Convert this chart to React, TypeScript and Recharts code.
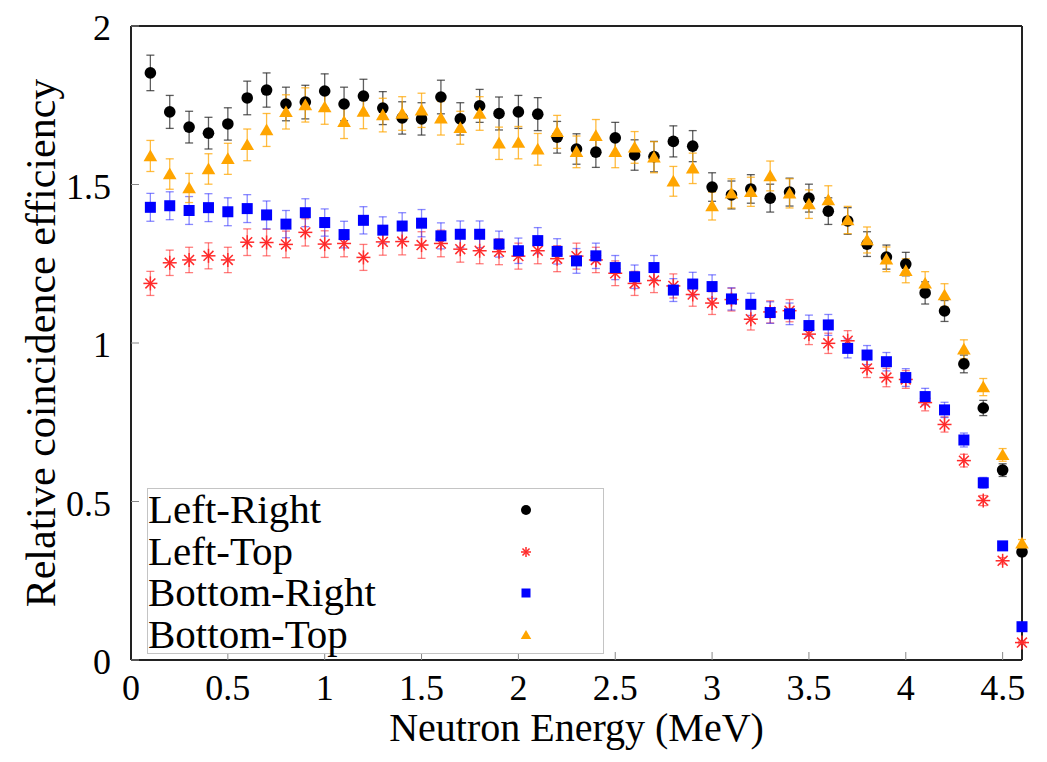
import React from "react";
import { ScatterChart, Scatter, XAxis, YAxis, ErrorBar } from "recharts";

// neutron energy bins (MeV)
const energies = [
    0.1, 0.2, 0.3, 0.4, 0.5, 0.6, 0.7, 0.8, 0.9, 1.0,
    1.1, 1.2, 1.3, 1.4, 1.5, 1.6, 1.7, 1.8, 1.9, 2.0,
    2.1, 2.2, 2.3, 2.4, 2.5, 2.6, 2.7, 2.8, 2.9, 3.0,
    3.1, 3.2, 3.3, 3.4, 3.5, 3.6, 3.7, 3.8, 3.9, 4.0,
    4.1, 4.2, 4.3, 4.4, 4.5, 4.6,
];

const leftRight = [
    1.852, 1.729, 1.681, 1.662, 1.691, 1.773, 1.798, 1.754, 1.760, 1.795,
    1.754, 1.779, 1.741, 1.710, 1.707, 1.776, 1.707, 1.748, 1.724, 1.729,
    1.722, 1.649, 1.612, 1.602, 1.647, 1.593, 1.588, 1.636, 1.621, 1.492,
    1.467, 1.486, 1.457, 1.476, 1.457, 1.416, 1.385, 1.312, 1.271, 1.249,
    1.158, 1.101, 0.934, 0.795, 0.599, 0.341,
];
const leftRightErr = [
    0.056, 0.052, 0.050, 0.050, 0.051, 0.053, 0.054, 0.053, 0.053, 0.054,
    0.053, 0.053, 0.052, 0.051, 0.051, 0.053, 0.051, 0.052, 0.052, 0.052,
    0.052, 0.050, 0.048, 0.048, 0.049, 0.048, 0.048, 0.049, 0.049, 0.045,
    0.044, 0.045, 0.044, 0.044, 0.044, 0.042, 0.042, 0.039, 0.038, 0.037,
    0.035, 0.033, 0.028, 0.024, 0.020, 0.012,
];

const leftTop = [
    1.188, 1.253, 1.262, 1.275, 1.262, 1.318, 1.317, 1.311, 1.349, 1.312,
    1.314, 1.270, 1.319, 1.320, 1.309, 1.314, 1.296, 1.291, 1.288, 1.274,
    1.291, 1.266, 1.274, 1.262, 1.220, 1.188, 1.197, 1.180, 1.153, 1.126,
    1.137, 1.075, 1.098, 1.102, 1.028, 0.999, 1.007, 0.920, 0.891, 0.885,
    0.812, 0.743, 0.629, 0.503, 0.313, 0.055,
];
const leftTopErr = [
    0.038, 0.040, 0.040, 0.041, 0.040, 0.042, 0.042, 0.042, 0.043, 0.042,
    0.042, 0.041, 0.042, 0.042, 0.042, 0.042, 0.041, 0.041, 0.041, 0.041,
    0.041, 0.041, 0.041, 0.040, 0.039, 0.038, 0.038, 0.038, 0.037, 0.036,
    0.036, 0.034, 0.035, 0.035, 0.033, 0.032, 0.032, 0.029, 0.029, 0.028,
    0.026, 0.024, 0.020, 0.016, 0.010, 0.004,
];

const bottomRight = [
    1.428, 1.433, 1.418, 1.427, 1.414, 1.424, 1.404, 1.375, 1.411, 1.380,
    1.342, 1.387, 1.356, 1.369, 1.378, 1.338, 1.343, 1.343, 1.312, 1.291,
    1.323, 1.289, 1.259, 1.275, 1.238, 1.209, 1.238, 1.167, 1.186, 1.178,
    1.139, 1.122, 1.096, 1.092, 1.055, 1.057, 0.983, 0.962, 0.941, 0.891,
    0.831, 0.789, 0.694, 0.559, 0.360, 0.105,
];
const bottomRightErr = [
    0.044, 0.044, 0.044, 0.044, 0.044, 0.044, 0.044, 0.043, 0.044, 0.043,
    0.042, 0.043, 0.042, 0.042, 0.043, 0.041, 0.042, 0.042, 0.041, 0.040,
    0.041, 0.040, 0.039, 0.040, 0.038, 0.037, 0.038, 0.036, 0.037, 0.037,
    0.035, 0.035, 0.034, 0.034, 0.033, 0.033, 0.030, 0.030, 0.029, 0.028,
    0.026, 0.024, 0.022, 0.017, 0.011, 0.004,
];

const bottomTop = [
    1.590, 1.533, 1.489, 1.549, 1.581, 1.625, 1.672, 1.729, 1.751, 1.744,
    1.698, 1.730, 1.719, 1.724, 1.734, 1.709, 1.679, 1.724, 1.630, 1.632,
    1.611, 1.666, 1.603, 1.654, 1.603, 1.617, 1.586, 1.510, 1.551, 1.432,
    1.472, 1.477, 1.527, 1.472, 1.438, 1.451, 1.388, 1.325, 1.264, 1.228,
    1.188, 1.151, 0.980, 0.861, 0.647, 0.368,
];
const bottomTopErr = [
    0.049, 0.048, 0.046, 0.048, 0.049, 0.050, 0.052, 0.054, 0.054, 0.054,
    0.053, 0.054, 0.053, 0.053, 0.054, 0.053, 0.052, 0.053, 0.051, 0.051,
    0.050, 0.052, 0.050, 0.051, 0.050, 0.050, 0.049, 0.047, 0.048, 0.044,
    0.046, 0.046, 0.047, 0.046, 0.045, 0.045, 0.043, 0.041, 0.039, 0.038,
    0.037, 0.036, 0.030, 0.027, 0.020, 0.012,
];

const xTicks = [0, 0.5, 1, 1.5, 2, 2.5, 3, 3.5, 4, 4.5];
const yTicks = [0, 0.5, 1, 1.5, 2];

const FONT = "'Liberation Serif', 'Times New Roman', serif";

const toPoints = (vals: number[], errs: number[]) =>
    energies.map((e, i) => ({ x: e, y: vals[i], err: errs[i] }));

// marker shapes, gnuplot style
const CircleMark = ({ cx, cy, r = 5.8 }: any) => (
    <circle cx={cx} cy={cy} r={r} fill="#000000" />
);
const StarMark = ({ cx, cy, s = 7 }: any) => {
    const d = s * 0.707;
    return (
        <g stroke="#ff2a2a" strokeWidth={1.5}>
            <line x1={cx - s} y1={cy} x2={cx + s} y2={cy} />
            <line x1={cx} y1={cy - s} x2={cx} y2={cy + s} />
            <line x1={cx - d} y1={cy - d} x2={cx + d} y2={cy + d} />
            <line x1={cx - d} y1={cy + d} x2={cx + d} y2={cy - d} />
        </g>
    );
};
const SquareMark = ({ cx, cy, s = 5.5 }: any) => (
    <rect x={cx - s} y={cy - s} width={s * 2} height={s * 2} fill="#0000ff" />
);
const TriangleMark = ({ cx, cy, s = 6.5 }: any) => (
    <polygon
        points={`${cx},${cy - s} ${cx - s * 1.05},${cy + s * 0.8} ${cx + s * 1.05},${cy + s * 0.8}`}
        fill="#ffa500"
    />
);

const series = [
    { name: "Left-Right", data: toPoints(leftRight, leftRightErr), shape: CircleMark, errColor: "rgba(40,40,40,0.75)", keySize: 5 },
    { name: "Left-Top", data: toPoints(leftTop, leftTopErr), shape: StarMark, errColor: "rgba(255,40,40,0.6)", keySize: 5 },
    { name: "Bottom-Right", data: toPoints(bottomRight, bottomRightErr), shape: SquareMark, errColor: "rgba(40,40,255,0.55)", keySize: 4.5 },
    { name: "Bottom-Top", data: toPoints(bottomTop, bottomTopErr), shape: TriangleMark, errColor: "rgba(255,165,0,0.75)", keySize: 5 },
];

const XTick = ({ x, y, payload }: any) => (
    <text x={x} y={y + 40} textAnchor="middle" fontFamily={FONT} fontSize={36} fill="#000">
        {String(payload.value)}
    </text>
);

const YTick = ({ x, y, payload }: any) => (
    <text x={x - 20} y={y + 14} textAnchor="end" fontFamily={FONT} fontSize={36} fill="#000">
        {String(payload.value)}
    </text>
);

const App = () => {
    return (
        <div style={{ position: "absolute", left: 0, top: 0, width: 1047, height: 762, background: "#fff" }}>
            <ScatterChart
                width={1047}
                height={762}
                margin={{ top: 25, right: 24, bottom: 0, left: 0 }}
            >
                <XAxis
                    type="number"
                    dataKey="x"
                    domain={[0, 4.6]}
                    ticks={xTicks}
                    height={102}
                    tickSize={-8}
                    tickMargin={8}
                    stroke="#222"
                    strokeWidth={2}
                    tickLine={{ stroke: "#888", strokeWidth: 1 }}
                    tick={<XTick />}
                    label={{
                        content: ({ viewBox }: any) => (
                            <text
                                x={viewBox.x + viewBox.width / 2}
                                y={viewBox.y + 81}
                                textAnchor="middle"
                                fontFamily={FONT}
                                fontSize={40}
                                fill="#000"
                            >
                                Neutron Energy (MeV)
                            </text>
                        ),
                    }}
                />
                <XAxis
                    xAxisId="top"
                    orientation="top"
                    type="number"
                    domain={[0, 4.6]}
                    ticks={xTicks}
                    allowDataOverflow
                    height={1}
                    tickSize={-8}
                    tickMargin={8}
                    stroke="#222"
                    strokeWidth={2}
                    tickLine={{ stroke: "#888", strokeWidth: 1 }}
                    tick={false}
                />
                <YAxis
                    type="number"
                    dataKey="y"
                    domain={[0, 2]}
                    ticks={yTicks}
                    width={131}
                    tickSize={-8}
                    tickMargin={8}
                    stroke="#222"
                    strokeWidth={2}
                    tickLine={{ stroke: "#888", strokeWidth: 1 }}
                    tick={<YTick />}
                    label={{
                        content: ({ viewBox }: any) => (
                            <text
                                transform={`translate(${viewBox.x + 55}, ${viewBox.y + viewBox.height / 2}) rotate(-90)`}
                                textAnchor="middle"
                                fontFamily={FONT}
                                fontSize={42}
                                fill="#000"
                            >
                                Relative coincidence efficiency
                            </text>
                        ),
                    }}
                />
                <YAxis
                    yAxisId="right"
                    orientation="right"
                    type="number"
                    domain={[0, 2]}
                    ticks={yTicks}
                    allowDataOverflow
                    width={1}
                    tickSize={-8}
                    tickMargin={8}
                    stroke="#222"
                    strokeWidth={2}
                    tickLine={{ stroke: "#888", strokeWidth: 1 }}
                    tick={false}
                />
                {series.map((s) => (
                    <Scatter
                        key={s.name}
                        name={s.name}
                        data={s.data}
                        shape={s.shape}
                        isAnimationActive={false}
                    >
                        <ErrorBar
                            dataKey="err"
                            direction="y"
                            width={4}
                            stroke={s.errColor}
                            strokeWidth={1.3}
                            isAnimationActive={false}
                        />
                    </Scatter>
                ))}
            </ScatterChart>

            {/* key box, bottom left inside the frame */}
            <div
                style={{
                    position: "absolute",
                    left: 147,
                    top: 488,
                    width: 457,
                    height: 166,
                    boxSizing: "border-box",
                    border: "1px solid #c4c4c4",
                    background: "#fff",
                    fontFamily: FONT,
                    fontSize: 41,
                    color: "#000",
                }}
            >
                {series.map((s) => {
                    const Mark = s.shape;
                    return (
                        <div key={s.name} style={{ position: "relative", height: 41.7, lineHeight: "41.7px", whiteSpace: "nowrap" }}>
                            {s.name}
                            <svg
                                width={20}
                                height={20}
                                style={{ position: "absolute", left: 368, top: 11 }}
                            >
                                <Mark cx={10} cy={10} r={s.keySize} s={s.keySize} />
                            </svg>
                        </div>
                    );
                })}
            </div>
        </div>
    );
};

export default App;
